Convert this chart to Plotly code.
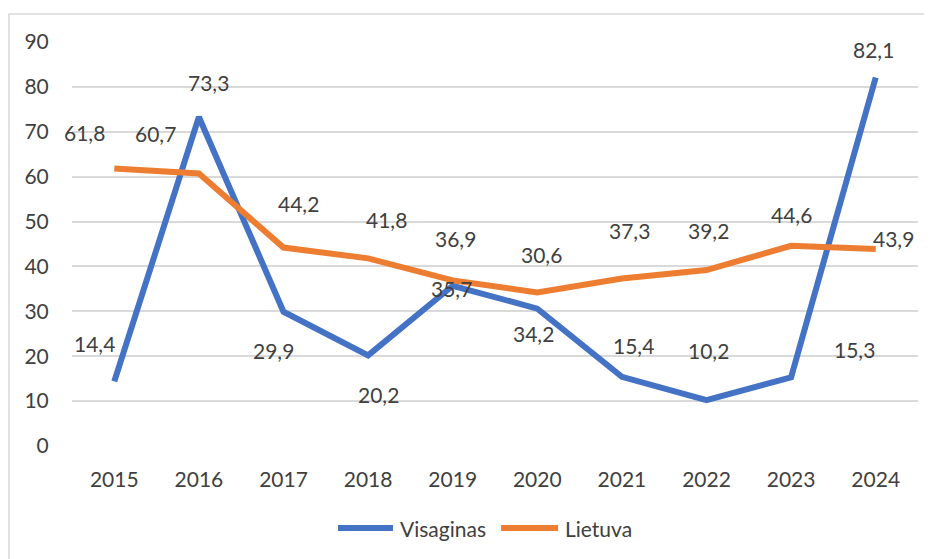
import plotly.graph_objects as go

years = ["2015", "2016", "2017", "2018", "2019", "2020", "2021", "2022", "2023", "2024"]
visaginas = [14.4, 73.3, 29.9, 20.2, 35.7, 30.6, 15.4, 10.2, 15.3, 82.1]
lietuva = [61.8, 60.7, 44.2, 41.8, 36.9, 34.2, 37.3, 39.2, 44.6, 43.9]

# label offsets in pixels (x, y up) as placed in the original chart
visaginas_shift = [(-20, 38), (10, 34), (-10, -39), (10, -39), (-1, -3),
                   (4, 54), (12, 31), (2, 50), (63, 28), (-2, 28)]
lietuva_shift = [(-30, 36), (-43, 40), (15, 44), (18, 39), (3, 42),
                 (-4, -41), (8, 48), (2, 40), (0, 31), (18, 10)]

BLUE = "#4472C4"
ORANGE = "#ED7D31"
TEXT = "#404040"
GRID = "#D9D9D9"
FONT = "Lato"
SIZE = 21

fig = go.Figure()
fig.add_trace(go.Scatter(x=years, y=visaginas, mode="lines", name="Visaginas",
                         line=dict(color=BLUE, width=6), showlegend=False))
fig.add_trace(go.Scatter(x=years, y=lietuva, mode="lines", name="Lietuva",
                         line=dict(color=ORANGE, width=6), showlegend=False))


def fmt(v):
    return f"{v:.1f}".replace(".", ",")


annotations = []
for vals, shifts in ((visaginas, visaginas_shift), (lietuva, lietuva_shift)):
    for i, (v, (dx, dy)) in enumerate(zip(vals, shifts)):
        # category axis: annotation x is the category index
        annotations.append(dict(x=i, y=v, text=fmt(v), showarrow=False,
                                xshift=dx, yshift=dy,
                                font=dict(family=FONT, size=SIZE, color=TEXT)))

# hand-made legend (longer line samples than plotly's default)
shapes = [dict(type="rect", xref="paper", yref="paper",
               x0=-0.0745, x1=1.0165, y0=-0.3, y1=1.0693,
               line=dict(color=GRID, width=1.5), layer="below")]
legend_items = [("Visaginas", BLUE, 0.3144, 0.3794), ("Lietuva", ORANGE, 0.5071, 0.5745)]
for name, color, lx0, lx1 in legend_items:
    shapes.append(dict(type="line", xref="paper", yref="paper",
                       x0=lx0, x1=lx1, y0=-0.203, y1=-0.203,
                       line=dict(color=color, width=6)))
    annotations.append(dict(x=lx1 + 0.006, y=-0.203, xref="paper", yref="paper",
                            text=name, showarrow=False, xanchor="left", yanchor="middle",
                            font=dict(family=FONT, size=SIZE, color=TEXT)))

fig.update_layout(
    width=932, height=559,
    margin=dict(l=64, r=22, t=34, b=121),
    paper_bgcolor="white", plot_bgcolor="white",
    font=dict(family=FONT, size=SIZE, color=TEXT),
    showlegend=False,
    annotations=annotations,
    shapes=shapes,
)
fig.update_xaxes(type="category", range=[-0.5, 9.5], showgrid=False, zeroline=False,
                 showline=False, ticks="outside", ticklen=15, tickcolor="rgba(0,0,0,0)",
                 tickfont=dict(family=FONT, size=SIZE, color=TEXT))
fig.update_yaxes(range=[0, 90], dtick=10, showgrid=True, gridcolor=GRID, gridwidth=1.5,
                 zeroline=False, showline=False,
                 ticks="outside", ticklen=18, tickcolor="rgba(0,0,0,0)",
                 tickfont=dict(family=FONT, size=SIZE, color=TEXT))

fig.write_html("out.html")
